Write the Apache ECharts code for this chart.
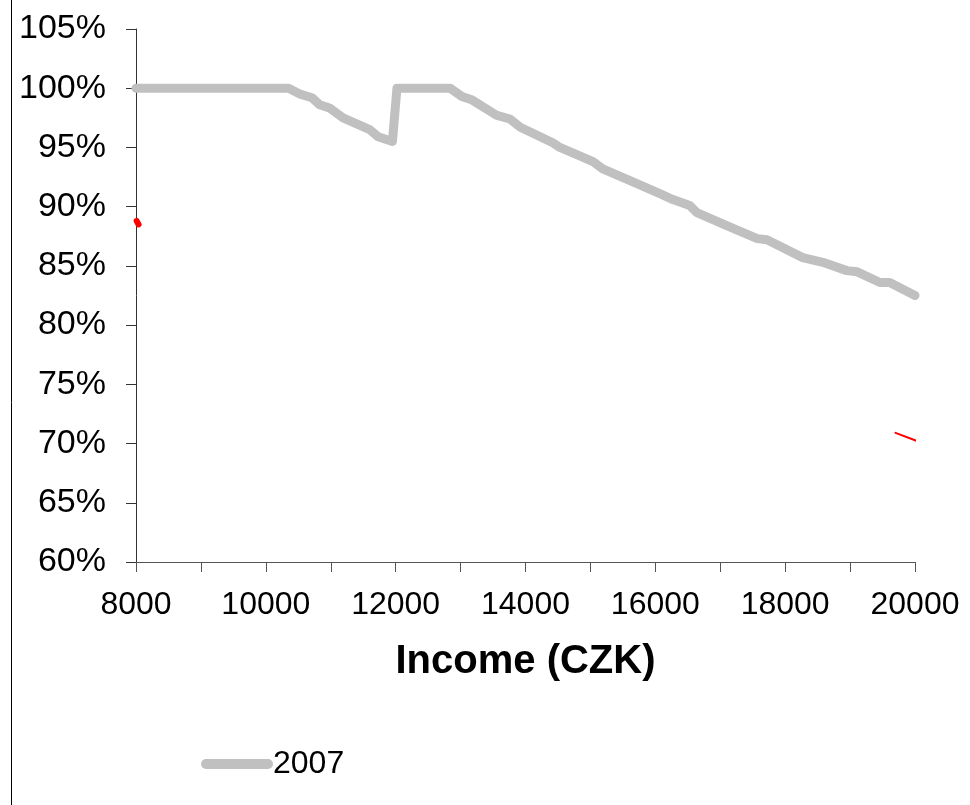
<!DOCTYPE html>
<html>
<head>
<meta charset="utf-8">
<script src="https://cdn.jsdelivr.net/npm/echarts@6/dist/echarts.min.js"></script>
<style>
html,body{margin:0;padding:0;background:#fff;}
#chart{width:970px;height:805px;}
</style>
</head>
<body>
<div id="chart"></div>
<script>
// Income (CZK) values and series 2007 (percent)
var income = [8000, 10350, 10530, 10710, 10830, 10990, 11190, 11600, 11730, 11950, 12020,
  12840, 13020, 13180, 13560, 13760, 13920, 14420, 14530, 15040, 15190, 15610, 16070,
  16270, 16530, 16640, 17100, 17570, 17720, 18270, 18580, 18950, 19110, 19460, 19610, 20000];
var s2007 = [100, 100, 99.5, 99.2, 98.6, 98.3, 97.5, 96.5, 95.9, 95.5, 100,
  100, 99.3, 99.0, 97.7, 97.4, 96.7, 95.4, 95.0, 93.8, 93.2, 92.2, 91.1,
  90.6, 90.1, 89.5, 88.4, 87.3, 87.2, 85.7, 85.3, 84.6, 84.5, 83.6, 83.6, 82.5];
// small red marks visible in the picture
var redLeftX = [8010, 8040];
var redLeftY = [88.8, 88.5];
var redRightX = [19700, 20040];
var redRightY = [70.9, 70.2];
var yTicks = {min: 60, max: 105, step: 5};
var xTicks = {min: 8000, max: 20000, step: 1000, labelEvery: 2000};
var seriesName = '2007';
var xTitle = 'Income (CZK)';

function pairs(xs, ys){ return xs.map(function(x,i){ return [x, ys[i]]; }); }

var chart = echarts.init(document.getElementById('chart'), null, {renderer:'canvas'});
var font = 'Liberation Sans, Arial, sans-serif';
chart.setOption({
  animation: false,
  backgroundColor: '#ffffff',
  grid: {left: 136, right: 55, top: 29, bottom: 243, containLabel: false},
  graphic: [{type: 'line', shape: {x1: 11.5, y1: 0, x2: 11.5, y2: 805}, style: {stroke: '#000', lineWidth: 1}}],
  xAxis: {
    type: 'value', min: xTicks.min, max: xTicks.max, interval: xTicks.step,
    name: xTitle, nameLocation: 'middle', nameGap: 80,
    nameTextStyle: {fontFamily: font, fontSize: 40, fontWeight: 'bold', color: '#000'},
    axisLine: {show: true, onZero: false, lineStyle: {color: '#555', width: 1}},
    axisTick: {show: true, inside: false, length: 10, lineStyle: {color: '#555'}},
    splitLine: {show: false},
    axisLabel: {
      margin: 27, fontFamily: font, fontSize: 32, color: '#000',
      formatter: function(v){ return (v % xTicks.labelEvery === 0) ? String(v) : ''; }
    }
  },
  yAxis: {
    type: 'value', min: yTicks.min, max: yTicks.max, interval: yTicks.step,
    axisLine: {show: true, lineStyle: {color: '#333', width: 1}},
    axisTick: {show: true, inside: false, length: 10, lineStyle: {color: '#333'}},
    splitLine: {show: false},
    axisLabel: {margin: 30, fontFamily: font, fontSize: 34, color: '#000', formatter: '{value}%'}
  },
  legend: {
    data: [seriesName], left: 196, top: 743, itemWidth: 72, itemHeight: 10, itemGap: 10,
    icon: 'path://M5,0 L67,0 A5,5 0 0 1 67,10 L5,10 A5,5 0 0 1 5,0 Z',
    textStyle: {fontFamily: font, fontSize: 32, color: '#000', padding: [0,0,0,-5]}
  },
  series: [
    {
      name: seriesName, type: 'line', data: pairs(income, s2007), showSymbol: false, symbol: 'none',
      itemStyle: {color: '#c0c0c0'},
      lineStyle: {color: '#c0c0c0', width: 9, cap: 'round', join: 'round'}
    },
    {
      name: 'redL', type: 'line', data: pairs(redLeftX, redLeftY), symbol: 'none', clip: false,
      lineStyle: {color: '#ff0000', width: 6, cap: 'round'}, silent: true
    },
    {
      name: 'redR', type: 'line', data: pairs(redRightX, redRightY), symbol: 'none', clip: false,
      lineStyle: {color: '#ff0000', width: 2, cap: 'round'}, silent: true
    }
  ]
});
</script>
</body>
</html>
